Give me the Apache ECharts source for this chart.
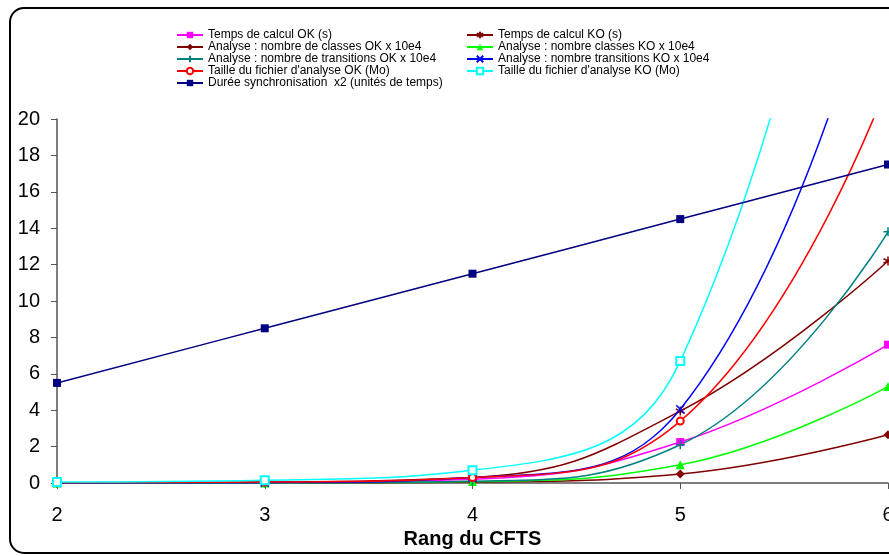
<!DOCTYPE html>
<html>
<head>
<meta charset="utf-8">
<script src="https://cdn.jsdelivr.net/npm/echarts@6/dist/echarts.min.js"></script>
<style>html,body{margin:0;padding:0;background:#fff;}#c{width:889px;height:556px;}</style>
</head>
<body>
<div id="c"></div>
<script>
// ---- data ----
var categories = ['2', '3', '4', '5', '6'];
var yTicks = { min: 0, max: 20, interval: 2 };

var tempsOK     = [0.0, 0.02, 0.2, 2.25, 7.6];
var tempsKO     = [0.0, 0.05, 0.3, 3.95, 12.2];
var classesOK   = [0.0, 0.0, 0.05, 0.5, 2.65];
var classesKO   = [0.0, 0.0, 0.08, 1.0, 5.3];
var transOK     = [0.0, 0.01, 0.1, 2.1, 13.8];
var transKO     = [0.0, 0.02, 0.3, 4.05, 31];
var tailleOK    = [0.02, 0.05, 0.3, 3.4, 22];
var tailleKO    = [0.05, 0.15, 0.7, 6.7, 50];
var dureeSync   = [5.5, 8.5, 11.5, 14.5, 17.5];

var names = {
  tOK: 'Temps de calcul OK (s)',
  tKO: 'Temps de calcul KO (s)',
  cOK: 'Analyse : nombre de classes OK x 10e4',
  cKO: 'Analyse : nombre classes KO x 10e4',
  trOK: 'Analyse : nombre de transitions OK x 10e4',
  trKO: 'Analyse : nombre transitions KO x 10e4',
  fOK: "Taille du fichier d'analyse OK (Mo)",
  fKO: "Taille du fichier d'analyse KO (Mo)",
  d: 'Durée synchronisation  x2 (unités de temps)'
};

var FONT = 'Arial, "Liberation Sans", sans-serif';
var SMOOTH = 0.45;

function mk(name, data, color, symbol, size, stroked) {
  return {
    name: name, type: 'line', data: data, smooth: SMOOTH,
    symbol: symbol, symbolSize: size, showAllSymbol: true,
    clip: true,
    lineStyle: { color: color, width: 1.5 },
    itemStyle: stroked ? { color: color, borderColor: color, borderWidth: 1.5 } : { color: color },
    emphasis: { disabled: true }
  };
}

var ASTER = 'path://M0,-5L0,5M-4.3,-2.5L4.3,2.5M-4.3,2.5L4.3,-2.5';
var PLUS = 'path://M0,-5L0,5M-5,0L5,0';
var CROSS = 'path://M-5,-5L5,5M-5,5L5,-5';

var series = [
  mk(names.tOK, tempsOK, '#FF00FF', 'rect', 8, false),
  mk(names.tKO, tempsKO, '#800000', ASTER, 9, true),
  mk(names.cOK, classesOK, '#800000', 'diamond', 9, false),
  mk(names.cKO, classesKO, '#00FF00', 'triangle', 9, false),
  mk(names.trOK, transOK, '#008080', PLUS, 9, true),
  mk(names.trKO, transKO, '#0000FF', CROSS, 8, true),
  mk(names.fOK, tailleOK, '#FF0000', 'emptyCircle', 7, false),
  mk(names.fKO, tailleKO, '#00FFFF', 'emptyRect', 8, false),
  mk(names.d, dureeSync, '#000080', 'rect', 8, false)
];

var legendCommon = {
  orient: 'vertical', padding: 0, itemGap: 0, itemWidth: 26, itemHeight: 8,
  textStyle: { fontFamily: FONT, fontSize: 12, color: '#000', lineHeight: 12 },
  selectedMode: false
};

var chart = echarts.init(document.getElementById('c'), null, { renderer: 'canvas' });
chart.setOption({
  animation: false,
  backgroundColor: '#fff',
  graphic: [{
    type: 'rect', z: -10, silent: true,
    shape: { x: 10, y: 8, width: 900, height: 545, r: 14 },
    style: { fill: 'none', stroke: '#000', lineWidth: 2 }
  }],
  legend: [
    Object.assign({}, legendCommon, { left: 176, top: 29, data: [names.tOK, names.cOK, names.trOK, names.fOK, names.d] }),
    Object.assign({}, legendCommon, { left: 466, top: 29, data: [names.tKO, names.cKO, names.trKO, names.fKO] })
  ],
  grid: { left: 57, right: 1, top: 119, bottom: 73, containLabel: false, outerBoundsMode: 'none' },
  xAxis: {
    type: 'category', data: categories, boundaryGap: false,
    name: 'Rang du CFTS', nameLocation: 'middle', nameGap: 43,
    nameTextStyle: { fontFamily: FONT, fontSize: 20, fontWeight: 'bold', color: '#000' },
    axisLine: { lineStyle: { color: '#555', width: 1.5 } },
    axisTick: { show: true, inside: false, length: 6, alignWithLabel: true, lineStyle: { color: '#555' } },
    axisLabel: { fontFamily: FONT, fontSize: 20, color: '#000', margin: 22 },
    splitLine: { show: false }
  },
  yAxis: {
    type: 'value', min: yTicks.min, max: yTicks.max, interval: yTicks.interval,
    axisLine: { show: true, lineStyle: { color: '#555', width: 1.5 } },
    axisTick: { show: true, inside: false, length: 6, lineStyle: { color: '#555' } },
    axisLabel: { fontFamily: FONT, fontSize: 20, color: '#000', margin: 17 },
    splitLine: { show: false }
  },
  series: series
});
</script>
</body>
</html>
